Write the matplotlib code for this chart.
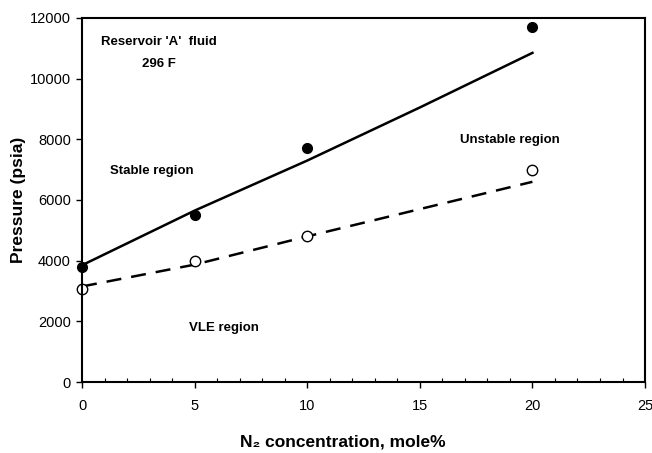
import matplotlib.pyplot as plt
from matplotlib.ticker import MultipleLocator

plt.rcParams['font.family'] = ['Liberation Sans', 'DejaVu Sans']

# measured points
n2_pts = [0, 5, 10, 20]
p_stable = [3800, 5500, 7700, 11700]
p_vle = [3050, 4000, 4800, 7000]

# fitted curves
n2_fit = [0, 5, 10, 15, 20]
fit_stable = [3850, 5650, 7300, 9050, 10850]
fit_vle = [3150, 3870, 4800, 5700, 6600]

fig = plt.figure(figsize=(6.52, 4.53), dpi=100)
ax = fig.add_axes([0.1258, 0.1567, 0.8635, 0.8036])

ax.plot(n2_fit, fit_stable, color='black', lw=1.8)
ax.plot(n2_fit, fit_vle, color='black', lw=1.8, dashes=(6, 4))
ax.plot(n2_pts, p_stable, 'o', color='black', ms=7, clip_on=False)
ax.plot(n2_pts, p_vle, 'o', mfc='white', mec='black', mew=1, ms=7.5, clip_on=False)

ax.set_xlim(0, 25)
ax.set_ylim(0, 12000)
ax.xaxis.set_major_locator(MultipleLocator(5))
ax.xaxis.set_minor_locator(MultipleLocator(1))
ax.yaxis.set_major_locator(MultipleLocator(2000))
ax.tick_params(axis='both', which='major', direction='out', length=4, width=1,
               labelsize=10.5, pad=4)
ax.tick_params(axis='x', which='minor', direction='in', length=3, width=0.8)
ax.tick_params(axis='x', which='major', pad=8)
for s in ax.spines.values():
    s.set_linewidth(1.5)

ax.set_xlabel('N₂ concentration, mole%', fontsize=12.5, fontweight='bold')
ax.set_ylabel('Pressure (psia)', fontsize=12.5, fontweight='bold')
ax.xaxis.set_label_coords(0.464, -0.145)
ax.yaxis.set_label_coords(-0.10, 0.5)

ax.text(3.4, 11200, "Reservoir 'A'  fluid", fontsize=9.5, fontweight='bold', ha='center', va='center')
ax.text(3.4, 10480, '296 F', fontsize=9.5, fontweight='bold', ha='center', va='center')
ax.text(3.1, 6950, 'Stable region', fontsize=9.5, fontweight='bold', ha='center', va='center')
ax.text(19.0, 7970, 'Unstable region', fontsize=9.5, fontweight='bold', ha='center', va='center')
ax.text(6.3, 1780, 'VLE region', fontsize=9.5, fontweight='bold', ha='center', va='center')

fig.savefig('out.png', dpi=100)
